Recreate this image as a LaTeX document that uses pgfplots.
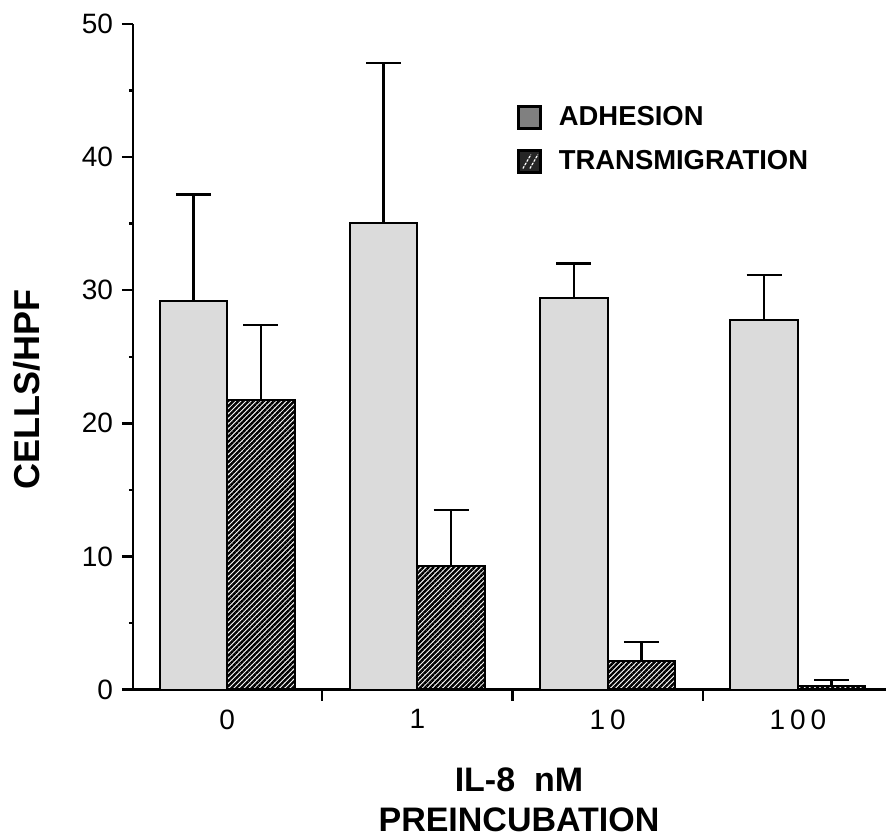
\documentclass[border=0pt]{standalone}
\usepackage{pgfplots}
\pgfplotsset{compat=1.18}
\usepackage{fontspec}
\setmainfont{Liberation Sans}
\usetikzlibrary{patterns.meta}

\begin{document}
\begin{tikzpicture}
\begin{axis}[
  scale only axis, width=376.5pt, height=332.75pt,
  xmin=-0.4947, xmax=3.463, ymin=0, ymax=50,
  axis x line=bottom, axis y line=left,
  axis line style={-, line width=1.2pt},
  ytick={0,10,...,50}, minor ytick={5,15,...,45},
  xtick={0.5,1.5,2.5}, xticklabels={},
  extra x ticks={0,1,2,3},
  extra x tick labels={0,1,1\hspace{2.5pt}0,1\hspace{2.5pt}0\hspace{2.5pt}0},
  extra x tick style={major tick length=0pt},
  tick align=outside,
  major tick length=5.5pt, minor tick length=2pt,
  tick style={line width=1.2pt, black},
  /pgf/number format/assume math mode=true,
  yticklabel style={font=\fontsize{14}{16}\selectfont, xshift=-1pt},
  xticklabel style={font=\fontsize{14}{16}\selectfont, yshift=-6.5pt},
  ylabel={CELLS/HPF},
  ylabel style={at={(axis description cs:-0.1408,0.4515)}, anchor=center, font=\fontsize{18}{20}\selectfont\bfseries},
  xlabel={IL-8\ \ nM\\PREINCUBATION},
  xlabel style={at={(axis description cs:0.5126,-0.1075)}, anchor=north, align=center, font=\fontsize{17}{20}\selectfont\bfseries},
  ybar, bar width=0.355,
  error bars/y dir=plus, error bars/y explicit,
  error bars/error bar style={line width=1.2pt, black},
  error bars/error mark options={rotate=90, mark size=8.75pt, line width=1.2pt, black},
  legend style={at={(axis description cs:0.51,0.883)}, anchor=north west, draw=none, fill=none,
    font=\fontsize{13.7}{16}\selectfont\bfseries, row sep=7pt, inner sep=0pt},
  legend cell align=left,
  clip=false,
]
\addplot[bar shift=-0.1776, fill=black!14, draw=black, line width=1pt,
  legend image code/.code={\draw[black, line width=1.5pt, fill=black!50] (0pt,-5.5pt) rectangle (11pt,5.5pt);
    \path[draw=none, fill=none] (0pt,0pt) -- (18pt,0pt);}]
  coordinates {(0,29.2) +- (0,8.0) (1,35.07) +- (0,11.98) (2,29.4) +- (0,2.6) (3,27.76) +- (0,3.4)};
\addlegendentry{ADHESION}
\addplot[bar shift=0.1776, pattern={Lines[angle=45,distance=1.8pt,line width=1.2pt]}, pattern color=black, draw=black, line width=1pt,
  legend image code/.code={\draw[black, line width=1.5pt, fill=black!85] (0pt,-5.5pt) rectangle (11pt,5.5pt);
    \draw[white, line width=0.6pt, dash pattern=on 1.2pt off 0.8pt] (2pt,-3.5pt) -- (6pt,3.5pt) (5.5pt,-3.5pt) -- (9.5pt,3.5pt);
    \path[draw=none, fill=none] (0pt,0pt) -- (18pt,0pt);}]
  coordinates {(0,21.75) +- (0,5.65) (1,9.3) +- (0,4.2) (2,2.17) +- (0,1.4) (3,0.3) +- (0,0.42)};
\addlegendentry{TRANSMIGRATION}
\coordinate (bbl) at (axis description cs:-0.1766,-0.2231);
\coordinate (btr) at (axis description cs:1,1.0361);
\end{axis}
\pgfresetboundingbox
\useasboundingbox (bbl) rectangle (btr);
\end{tikzpicture}
\end{document}
